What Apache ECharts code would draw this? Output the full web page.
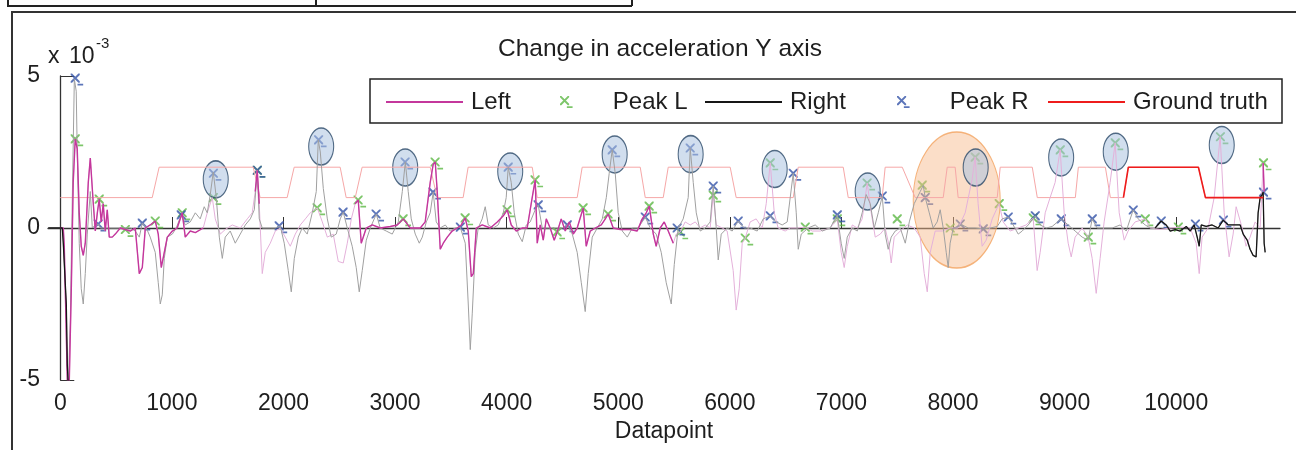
<!DOCTYPE html>
<html>
<head>
<meta charset="utf-8">
<script src="https://cdn.jsdelivr.net/npm/echarts@6.0.0/dist/echarts.min.js"></script>
<style>html,body{margin:0;padding:0;background:#fff}#chart{width:1296px;height:450px}</style>
</head>
<body>
<div id="chart"></div>
<script>
// x ticks of the datapoint axis
var xTicks = [0, 1000, 2000, 3000, 4000, 5000, 6000, 7000, 8000, 9000, 10000];

// ground truth (1 / 2 levels)
var groundTruth = [
    [0,1],[824,1],[886,2],[1729,2],[1791,1],[2033,1],[2096,2],[2508,2],[2562,1],[2643,1],[2705,2],[3315,2],[3377,1],
    [3610,1],[3655,2],[4229,2],[4274,1],[4632,1],[4677,2],[5197,2],[5242,1],[5403,1],[5448,2],[6003,2],[6057,1],
    [6568,1],[6613,2],[7016,2],[7061,1],[7365,1],[7392,2],[7545,2],[7661,1],[7912,1],[7948,2],[8019,2],[8046,1],
    [8396,1],[8423,2],[8710,2],[8755,1],[9096,1],[9123,2],[9365,2],[9410,1],[9527,1],[9571,2],[10199,2],[10262,1],[10782,1]
];

// left sensor signal (x 10^-3)
var leftSignal = [
    [0,0],[27,0],[36,-0.6],[63,-5],[81,-5],[99,-2],[116,1.5],[134,2.93],[152,2.6],[170,0.5],[188,-0.6],[206,-0.9],
    [224,-0.5],[251,1.5],[269,2.3],[278,2.3],[296,0.8],[314,-0.1],[332,0.5],[349,0.95],[367,0.2],[385,0.8],[403,-0.1],
    [421,0.6],[439,-0.3],[466,-0.3],[493,-0.2],[538,0],[582,-0.05],[627,-0.1],[672,0],[708,-1.5],[735,-1.3],[762,0],
    [806,0.1],[851,0.23],[878,-0.2],[905,-1.3],[932,-0.8],[959,-0.3],[1004,-0.1],[1048,0],[1093,0.5],[1120,-0.3],
    [1165,-0.1],[1210,-0.15],[1281,0],[1317,0.5],[1362,1.0],[1389,0.3],[1434,-0.2],[1478,-0.05],[1541,0.1],[1613,0],
    [1676,0.3],[1720,0.5],[1747,1.2],[1765,1.9],[1783,0.8],[1810,-1.5],[1837,-0.8],[1882,-0.5],[1927,-0.1],[1971,0],
    [2016,-0.3],[2061,-0.6],[2106,-0.2],[2151,0.1],[2196,0.3],[2240,0.5],[2303,0.66],[2348,0.2],[2393,-0.3],[2446,-0.2],
    [2491,-1.1],[2536,-1.15],[2572,-0.5],[2608,0.3],[2643,0.8],[2670,0.92],[2697,-0.5],[2742,0],[2796,0.1],[2867,0],
    [2957,0.05],[3020,0.1],[3074,0.3],[3136,0],[3226,0],[3270,0.2],[3315,1.5],[3342,2.1],[3360,2.17],[3378,1.2],
    [3405,-0.7],[3432,-0.5],[3468,-0.3],[3512,-0.1],[3557,0],[3593,0.1],[3629,0.33],[3656,-0.1],[3683,-1.6],[3701,-1.5],
    [3728,0],[3781,0.1],[3853,0],[3916,0.2],[3970,0.4],[4005,0.6],[4041,0.1],[4086,-0.1],[4140,0],[4184,0],[4220,0.8],
    [4238,1.2],[4256,1.58],[4274,-0.5],[4301,0.1],[4328,-0.4],[4355,0.3],[4390,0],[4426,-0.4],[4453,-0.13],[4489,0.3],
    [4525,-0.1],[4561,0.2],[4597,-0.2],[4632,0],[4686,0.66],[4713,-0.6],[4749,-0.1],[4794,0],[4848,0.1],[4884,0.3],
    [4910,0.46],[4955,0],[5018,-0.05],[5107,-0.05],[5170,-0.1],[5215,0.3],[5251,0.5],[5278,0.72],[5314,-0.2],[5340,-0.6],
    [5376,0],[5412,0.2],[5448,-0.1],[5493,-0.5],[5520,-0.2],[5555,-0.13],[5600,0.2],[5645,0.1],[5690,0.2],[5734,0],
    [5779,0.1],[5824,0],[5851,1.08],[5878,0.1],[5932,0],[5976,-0.1],[6030,-1.4],[6057,-2.7],[6084,-2.0],[6111,-0.5],
    [6138,-0.33],[6182,0.2],[6236,0.3],[6290,0],[6326,0.8],[6362,2.14],[6398,0.5],[6433,0],[6496,-0.1],[6541,0],[6603,0],
    [6675,0.03],[6738,-0.1],[6810,-0.1],[6899,0],[6962,0.3],[6998,-0.8],[7025,-1.3],[7052,-0.6],[7097,0.1],[7142,0],
    [7186,0.3],[7231,1.48],[7267,0.5],[7303,-0.3],[7348,-0.2],[7392,0],[7428,-0.6],[7446,-1.15],[7473,-0.3],[7527,-0.1],
    [7590,0.1],[7652,0],[7706,-0.3],[7742,-1.5],[7769,-2.1],[7796,-0.8],[7840,-0.1],[7903,-0.1],[7974,0],[8046,0],
    [8109,0.5],[8171,1.6],[8198,2.33],[8225,0.8],[8261,-0.6],[8297,-0.4],[8351,0.3],[8413,0.8],[8449,0.2],[8512,-0.1],
    [8584,0],[8655,0.1],[8718,0.33],[8754,-1.4],[8781,-0.8],[8826,0.5],[8870,1.0],[8915,1.5],[8960,2.57],[8996,0.5],
    [9032,-0.5],[9059,-0.95],[9094,-0.3],[9157,0],[9211,-0.3],[9247,-1.0],[9283,-2.15],[9318,-1.0],[9354,0.2],[9408,1.5],
    [9453,2.8],[9489,0.5],[9534,-0.4],[9569,-0.1],[9632,0.2],[9722,0.3],[9766,0],[9856,-0.05],[9946,0],[10035,0.03],
    [10125,0],[10179,-0.5],[10206,-1.5],[10232,-0.3],[10286,0],[10340,1.0],[10394,3.0],[10430,0.5],[10474,-0.95],
    [10510,-0.2],[10537,0.7],[10591,0],[10626,-0.6],[10662,-0.3],[10707,0.2],[10752,0],[10779,2.14],[10788,1.2]
];

// right sensor signal (x 10^-3)
var rightSignal = [
    [-108,0],[-90,0],[18,0],[27,-0.5],[54,-2.5],[63,-4.5],[72,-5.2],[90,-3],[108,1],[126,4.9],[134,4.93],[143,4.5],
    [152,2.5],[170,-0.5],[188,-2.0],[206,-2.5],[224,-1.5],[242,-0.2],[269,1.2],[287,0],[314,0.1],[340,0.13],[358,0],
    [448,0],[538,0],[627,0],[672,-0.1],[708,-0.3],[735,0.16],[771,0],[806,-0.3],[851,-0.8],[878,-1.8],[896,-2.5],
    [914,-2.2],[932,-1.0],[959,-0.3],[1004,-0.2],[1039,0],[1084,0.43],[1120,0.1],[1165,0.2],[1210,0.5],[1254,0.3],
    [1290,0.7],[1317,0.5],[1344,1.1],[1371,1.84],[1398,1.0],[1425,-0.3],[1452,-1.0],[1478,-0.3],[1523,-0.1],[1568,-0.5],
    [1613,-0.2],[1658,0.1],[1703,0.3],[1739,0.6],[1765,1.9],[1783,0.3],[1810,0],[1882,0],[1927,0],[1971,0.07],
    [2007,-0.5],[2043,-1.4],[2070,-2.1],[2097,-1.0],[2133,-0.3],[2168,0],[2213,-0.2],[2258,0.5],[2294,1.2],[2312,2.9],
    [2330,2.5],[2357,1.3],[2393,0.3],[2428,-0.3],[2473,-0.2],[2509,0.3],[2536,0.52],[2572,0],[2616,-0.6],[2652,-1.3],
    [2679,-2.1],[2706,-1.4],[2742,-0.4],[2778,0],[2832,0.46],[2867,0],[2921,-0.1],[2975,-0.2],[3029,0.2],[3065,1.2],
    [3092,2.17],[3118,1.2],[3145,0.3],[3181,-0.2],[3217,-0.5],[3244,-0.3],[3280,0.2],[3315,0.5],[3342,1.18],[3369,0.2],
    [3405,0],[3450,0.1],[3494,-0.1],[3539,0],[3584,0.03],[3629,-0.5],[3656,-2.5],[3674,-4.0],[3692,-2.8],[3718,-0.8],
    [3745,0],[3781,0.3],[3808,0.7],[3835,0.1],[3880,0],[3924,0.1],[3970,0.5],[3996,1.0],[4014,2.0],[4041,1.5],[4068,0.5],
    [4104,-0.2],[4140,-0.45],[4176,0.1],[4211,0.2],[4256,0.6],[4283,0.76],[4319,0],[4373,0],[4435,0],[4498,0],
    [4543,0.1],[4588,-0.2],[4632,-0.8],[4669,-1.8],[4704,-2.75],[4731,-1.5],[4767,-0.3],[4812,0],[4857,0.3],[4893,1.0],
    [4919,1.8],[4946,2.57],[4973,1.8],[5000,0.5],[5036,-0.1],[5081,-0.3],[5126,0],[5179,0],[5242,0.36],[5287,0],
    [5340,-0.2],[5385,-0.8],[5430,-1.8],[5475,-2.5],[5502,-1.2],[5537,0],[5582,0.3],[5627,1.0],[5645,2.63],[5672,1.5],
    [5699,0.5],[5734,-0.1],[5779,0],[5824,0.2],[5851,1.38],[5878,0],[5896,-1.05],[5923,-0.2],[5976,0],[6021,-0.1],
    [6075,0.23],[6129,0],[6182,0],[6245,-0.1],[6299,0.3],[6362,0.4],[6416,0.2],[6469,0.1],[6514,0.2],[6541,1.0],
    [6568,1.8],[6595,0.5],[6613,-0.7],[6640,-0.2],[6702,0],[6765,0.1],[6828,-0.1],[6899,0],[6962,0.43],[6998,-0.5],
    [7025,-1.0],[7052,-0.3],[7097,0],[7142,-0.1],[7186,0.5],[7222,1.1],[7258,0.8],[7294,0],[7330,0.5],[7366,1.05],
    [7392,-0.2],[7419,-0.7],[7446,-0.3],[7482,-0.1],[7527,0],[7572,-0.5],[7608,0.2],[7652,0.8],[7706,1.2],[7733,1.4],
    [7751,1.0],[7787,0.5],[7822,0],[7858,0.2],[7885,0.6],[7912,0],[7939,-0.8],[7957,-1.3],[7974,-0.5],[8002,0],
    [8046,0.05],[8082,0.1],[8136,0],[8198,0],[8270,-0.03],[8333,0],[8396,0.05],[8440,0.3],[8494,0.36],[8539,0.1],
    [8584,-0.2],[8620,-0.1],[8674,0.1],[8737,0.4],[8781,0.1],[8835,0],[8888,0.05],[8969,0.3],[9032,0.1],[9094,-0.1],
    [9157,-0.3],[9211,-0.4],[9247,0.3],[9291,0],[9354,0],[9426,0],[9498,0.1],[9552,-0.1],[9614,0.59],[9659,0.3],
    [9722,0.1],[9766,0],[9811,0],[9865,0.23],[9910,0.1],[9946,-0.1],[9991,-0.05],[10035,-0.1],[10090,0.05],[10125,-0.1],
    [10161,0.1],[10188,-0.3],[10206,-0.6],[10224,0.1],[10268,0.05],[10322,0.1],[10376,0],[10421,0.26],[10466,0.1],
    [10519,0.1],[10573,0.1],[10600,-0.2],[10636,-0.4],[10662,-0.7],[10689,-0.9],[10716,-0.95],[10734,0.5],[10752,1.0],
    [10770,1.1],[10779,1.18],[10788,-0.5],[10797,-0.8]
];

// detected peaks
var peakL = [
    [134,2.93],[349,0.95],[583,-0.05],[851,0.23],[1093,0.5],[1372,1.0],[1766,1.9],[2302,0.66],[2669,0.92],[3072,0.3],
    [3359,2.17],[3628,0.33],[4004,0.6],[4255,1.58],[4452,-0.13],[4685,0.66],[4909,0.46],[5277,0.72],[5555,-0.13],
    [5851,1.08],[6138,-0.33],[6362,2.14],[6676,0.03],[6963,0.3],[7230,1.48],[7500,0.3],[7724,1.41],[7975,0],[8199,2.33],
    [8414,0.8],[8719,0.33],[8961,2.57],[9212,-0.3],[9454,2.8],[9723,0.3],[10019,0.03],[10396,3.0],[10782,2.14]
];
var peakR = [
    [134,4.93],[340,0.13],[735,0.16],[1084,0.43],[1372,1.8],[1766,1.9],[1962,0.07],[2315,2.9],[2534,0.52],[2830,0.46],
    [3090,2.17],[3340,1.18],[3585,0.03],[4014,2.0],[4283,0.76],[4543,0.1],[4946,2.57],[5242,0.36],[5528,0],[5645,2.63],
    [5851,1.38],[6075,0.23],[6362,0.4],[6568,1.8],[6963,0.43],[7366,1.05],[7751,1.0],[8065,0.13],[8271,-0.03],
    [8495,0.36],[8737,0.4],[8970,0.3],[9248,0.3],[9615,0.59],[9866,0.23],[10172,0.13],[10423,0.26],[10782,1.18]
];

// circled peaks and the marked region
var circledPeaks = [
    [1393,1.6],[2338,2.68],[3091,1.99],[4032,1.86],[4968,2.42],[5649,2.43],[6402,1.94],[7235,1.2],
    [8203,1.99],[8969,2.32],[9458,2.51],[10408,2.73]
];
var markedRegion = [[8033,0.92]];

// datapoint ranges drawn with the strong colour
var leftStrong = [[0, 1285], [1740, 1800], [2630, 5500], [10770, 10800]];
var rightStrong = [[-110, 75], [9800, 10800]];
var truthStrong = [[9520, 10790]];

var FONT = "'Liberation Sans', Arial, sans-serif";
var TEXT = '#1e1e1e';
var CROSS = 'path://M0,0L1.2,0L8,6.8L8,8L6.8,8L0,1.2ZM8,0L8,1.2L1.2,8L0,8L0,6.8L6.8,0ZM6,9L11,9L11,10.5L6,10.5Z';

function pick(data, ranges) {
    var out = [];
    ranges.forEach(function (r) {
        data.forEach(function (p) {
            if (p[0] >= r[0] && p[0] <= r[1]) out.push(p);
        });
        out.push([r[1], '-']);
    });
    return out;
}

function lineSeries(name, data, color, width) {
    return {
        name: name, type: 'line', data: data, symbol: 'none', color: color,
        lineStyle: {color: color, width: width}, silent: true, connectNulls: false
    };
}

// one legend per entry, so each sits where the original put it
function lineLegend(name, left) {
    return {
        data: [name], left: left, top: 90, padding: 0, itemWidth: 77, itemHeight: 12,
        selectedMode: false, itemStyle: {opacity: 0},
        textStyle: {fontSize: 24, color: TEXT, fontFamily: FONT, padding: [0, 0, 0, 3]}
    };
}
function markLegend(name, left) {
    return {
        data: [name], left: left, top: 90, padding: 0, itemWidth: 13, itemHeight: 12,
        selectedMode: false,
        textStyle: {fontSize: 24, color: TEXT, fontFamily: FONT, padding: [0, 0, 0, 35]}
    };
}

var myChart = echarts.init(document.getElementById('chart'));
var option = {
    animation: false,
    backgroundColor: '#fff',
    title: {
        text: 'Change in acceleration Y axis', left: 660, top: 37, padding: 0, textAlign: 'center',
        textStyle: {fontSize: 24.5, fontWeight: 'normal', color: TEXT, fontFamily: FONT}
    },
    legend: [
        lineLegend('Left', 385),
        markLegend('Peak L', 560),
        lineLegend('Right', 704),
        markLegend('Peak R', 897),
        lineLegend('Ground truth', 1047)
    ],
    grid: {left: 48, right: 16, top: 76, bottom: 70},
    xAxis: {
        type: 'value', min: -110, max: 10930,
        name: 'Datapoint', nameLocation: 'middle', nameGap: 40,
        nameTextStyle: {fontSize: 23, color: TEXT, fontFamily: FONT},
        axisLine: {lineStyle: {color: '#333', width: 1.3}},
        axisTick: {inside: true, length: 11, customValues: xTicks, lineStyle: {color: '#333'}},
        axisLabel: {
            customValues: xTicks, fontSize: 23, color: TEXT, fontFamily: FONT, margin: 12,
            formatter: function (v) { return String(v); }
        },
        splitLine: {show: false}
    },
    yAxis: {
        type: 'value', min: -5, max: 5, interval: 5,
        axisLine: {show: true, lineStyle: {color: '#333', width: 1.3}},
        axisTick: {show: true, inside: true, length: 14, lineStyle: {color: '#333'}},
        axisLabel: {fontSize: 23, color: TEXT, fontFamily: FONT, margin: 8},
        splitLine: {show: false}
    },
    graphic: [
        // figure frame and the table edge above it
        {type: 'line', shape: {x1: 11, y1: 12, x2: 1296, y2: 12}, style: {stroke: '#333', lineWidth: 2}, silent: true},
        {type: 'line', shape: {x1: 12, y1: 12, x2: 12, y2: 450}, style: {stroke: '#333', lineWidth: 2}, silent: true},
        {type: 'line', shape: {x1: 7, y1: 6, x2: 632, y2: 6}, style: {stroke: '#222', lineWidth: 2}, silent: true},
        {type: 'line', shape: {x1: 8, y1: 0, x2: 8, y2: 6}, style: {stroke: '#222', lineWidth: 2}, silent: true},
        {type: 'line', shape: {x1: 316, y1: 0, x2: 316, y2: 6}, style: {stroke: '#222', lineWidth: 2}, silent: true},
        {type: 'line', shape: {x1: 632, y1: 0, x2: 632, y2: 6}, style: {stroke: '#222', lineWidth: 2}, silent: true},
        // legend box
        {type: 'rect', shape: {x: 370, y: 79, width: 912, height: 44},
            style: {fill: '#fff', stroke: '#222', lineWidth: 1.5}, z: -1, silent: true},
        // exponent label
        {type: 'text', left: 48, top: 45, style: {text: 'x', fontSize: 23, fill: TEXT, fontFamily: FONT}},
        {type: 'text', left: 69, top: 45, style: {text: '10', fontSize: 23, fill: TEXT, fontFamily: FONT}},
        {type: 'text', left: 96, top: 36, style: {text: '-3', fontSize: 15, fill: TEXT, fontFamily: FONT}}
    ],
    series: [
        lineSeries('truth-all', groundTruth, '#f6a7a7', 1),
        lineSeries('left-all', leftSignal, '#e4b1da', 1),
        lineSeries('right-all', rightSignal, '#a0a0a0', 1),
        lineSeries('Left', pick(leftSignal, leftStrong), '#c4379c', 1.4),
        lineSeries('Right', pick(rightSignal, rightStrong), '#161616', 1.3),
        lineSeries('Ground truth', pick(groundTruth, truthStrong), '#ee1c1c', 1.6),
        {
            name: 'Peak L', type: 'scatter', data: peakL, symbol: CROSS, symbolSize: [12.5, 12],
            symbolOffset: [1.7, 1.4], color: '#5db845', silent: true
        },
        {
            name: 'Peak R', type: 'scatter', data: peakR, symbol: CROSS, symbolSize: [12.5, 12],
            symbolOffset: [1.7, 1.4], color: '#3352a8', silent: true
        },
        {
            name: 'region', type: 'scatter', data: markedRegion, symbol: 'circle', symbolSize: [87, 136],
            itemStyle: {color: 'rgba(246,186,140,0.6)', borderColor: '#f2a15c', borderWidth: 1.2}, silent: true
        },
        {
            name: 'circled', type: 'scatter', data: circledPeaks, symbol: 'circle', symbolSize: [25, 37],
            itemStyle: {color: 'rgba(170,194,224,0.68)', borderColor: '#2b4868', borderWidth: 1.3}, silent: true
        }
    ]
};
myChart.setOption(option);
</script>
</body>
</html>
